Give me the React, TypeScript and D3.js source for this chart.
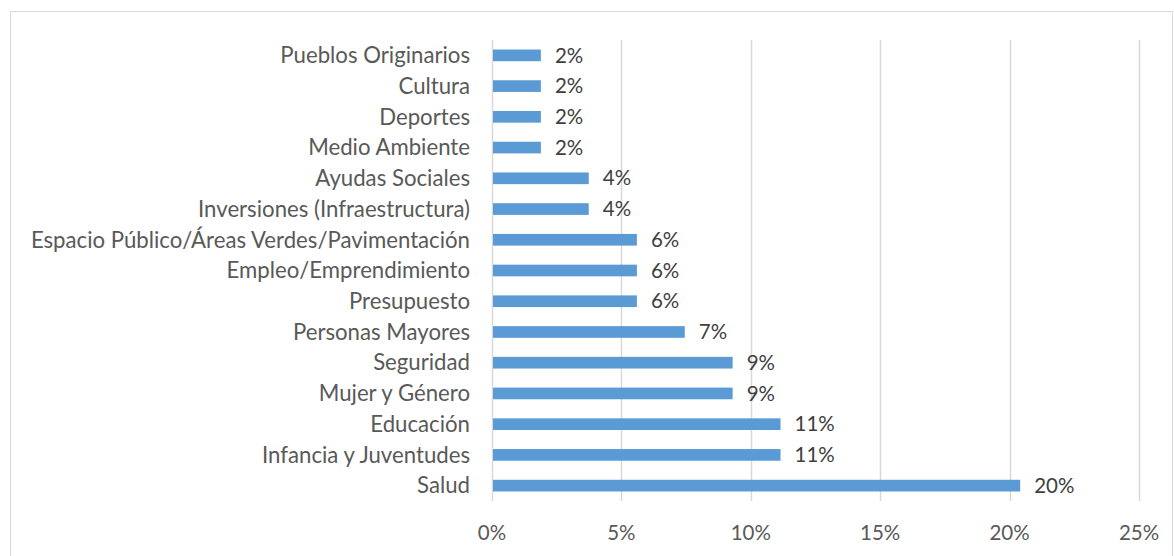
import { useEffect, useRef } from 'react';
import * as d3 from 'd3';

// categories top to bottom, as in the picture
const categories = [
  'Pueblos Originarios',
  'Cultura',
  'Deportes',
  'Medio Ambiente',
  'Ayudas Sociales',
  'Inversiones (Infraestructura)',
  'Espacio Público/Áreas Verdes/Pavimentación',
  'Empleo/Emprendimiento',
  'Presupuesto',
  'Personas Mayores',
  'Seguridad',
  'Mujer y Género',
  'Educación',
  'Infancia y Juventudes',
  'Salud',
];

// share of mentions (fraction)
const values = [
  0.0185, 0.0185, 0.0185, 0.0185, 0.037, 0.037, 0.0556, 0.0556, 0.0556,
  0.0741, 0.0926, 0.0926, 0.1111, 0.1111, 0.2037,
];

const xTicks = [0, 0.05, 0.1, 0.15, 0.2, 0.25];

const FONT = "Lato, 'Open Sans', sans-serif";
const FS_CAT = 22.2;
const FS_NUM = 20.5;

const App = () => {
  const ref = useRef<SVGSVGElement>(null);

  useEffect(() => {
    if (!ref.current) return;
    const width = 1174;
    const height = 556;
    const svg = d3.select(ref.current);
    svg.selectAll('*').remove();

    const margin = { top: 40, left: 492, right: 35, bottom: 55 };

    // chart frame
    svg.append('rect')
      .attr('x', 10.5)
      .attr('y', 11.5)
      .attr('width', 1162)
      .attr('height', 600)
      .attr('fill', '#fff')
      .attr('stroke', '#d9d9d9');

    const x = d3.scaleLinear()
      .domain([0, 0.25])
      .range([margin.left, width - margin.right]);

    const y = d3.scaleBand<string>()
      .domain(categories)
      .range([margin.top, height - margin.bottom])
      .paddingInner(0.62)
      .paddingOuter(0.31);

    const fmt = d3.format('.0%');

    // gridlines
    svg.append('g')
      .selectAll('line')
      .data(xTicks)
      .join('line')
      .attr('x1', d => Math.round(x(d)) + 0.5)
      .attr('x2', d => Math.round(x(d)) + 0.5)
      .attr('y1', margin.top)
      .attr('y2', height - margin.bottom)
      .attr('stroke', '#d9d9d9')
      .attr('stroke-width', 1.5);

    // tick labels
    svg.append('g')
      .selectAll('text')
      .data(xTicks)
      .join('text')
      .attr('x', d => x(d))
      .attr('y', 540)
      .attr('text-anchor', 'middle')
      .attr('font-family', FONT)
      .attr('font-size', FS_NUM)
      .attr('fill', '#595959')
      .text(d => fmt(d));

    const data = categories.map((c, i) => ({ c, v: values[i] }));

    // bars
    svg.append('g')
      .selectAll('rect')
      .data(data)
      .join('rect')
      .attr('x', x(0) + 1)
      .attr('y', d => y(d.c)!)
      .attr('width', d => x(d.v) - x(0))
      .attr('height', y.bandwidth())
      .attr('fill', '#5b9bd5');

    // category labels
    svg.append('g')
      .selectAll('text')
      .data(data)
      .join('text')
      .attr('x', x(0) - 22)
      .attr('y', d => y(d.c)! + y.bandwidth() / 2)
      .attr('dy', '0.35em')
      .attr('text-anchor', 'end')
      .attr('font-family', FONT)
      .attr('font-size', FS_CAT)
      .attr('fill', '#595959')
      .text(d => d.c);

    // value labels
    svg.append('g')
      .selectAll('text')
      .data(data)
      .join('text')
      .attr('x', d => x(d.v) + 15)
      .attr('y', d => y(d.c)! + y.bandwidth() / 2)
      .attr('dy', '0.35em')
      .attr('font-family', FONT)
      .attr('font-size', FS_NUM)
      .attr('fill', '#404040')
      .text(d => fmt(d.v));
  }, []);

  return (
    <svg
      ref={ref}
      width={1174}
      height={556}
      style={{ position: 'absolute', left: 0, top: 0, background: '#fff' }}
    />
  );
};

export default App;
